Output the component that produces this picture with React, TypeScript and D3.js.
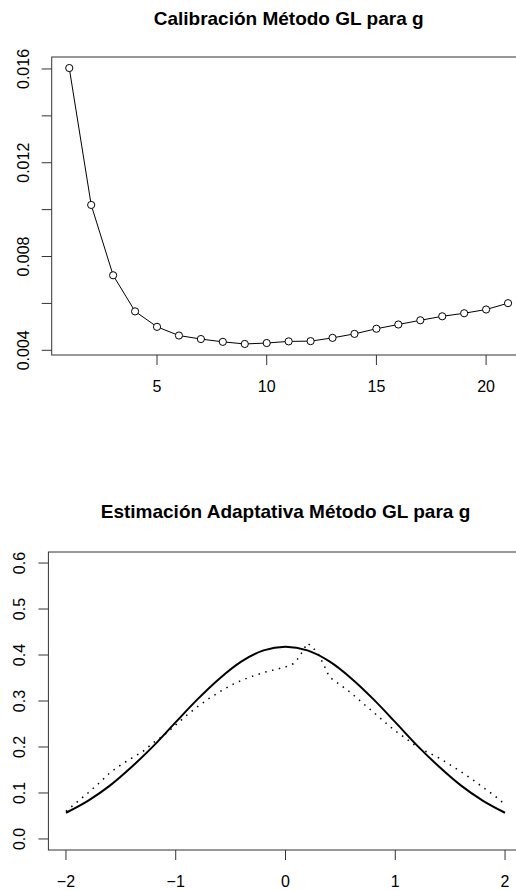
import React, { useEffect, useRef } from 'react';
import * as d3 from 'd3';

// top panel: calibration error by number of components
const calibK = [1, 2, 3, 4, 5, 6, 7, 8, 9, 10, 11, 12, 13, 14, 15, 16, 17, 18, 19, 20, 21];
const calibErr = [
  0.01604, 0.0102, 0.0072, 0.00566, 0.005, 0.00463, 0.00448, 0.00436, 0.00427, 0.00431, 0.00438,
  0.00439, 0.00453, 0.0047, 0.00492, 0.0051, 0.00528, 0.00545, 0.00558, 0.00574, 0.00601,
];
const calibXTicks = [5, 10, 15, 20];
const calibYTicks = [0.004, 0.006, 0.008, 0.01, 0.012, 0.014, 0.016];
const calibYLabels = ['0.004', '', '0.008', '', '0.012', '', '0.016'];

// bottom panel: true density (solid) and adaptive estimate (dotted)
const trueX = [-2, -1.8, -1.6, -1.4, -1.2, -1, -0.8, -0.6, -0.4, -0.2, 0, 0.2, 0.4, 0.6, 0.8, 1, 1.2, 1.4, 1.6, 1.8, 2];
const trueY = [
  0.057, 0.083, 0.116, 0.157, 0.203, 0.254, 0.304, 0.349, 0.386, 0.41, 0.418, 0.41, 0.386, 0.349, 0.304,
  0.254, 0.203, 0.157, 0.116, 0.083, 0.057,
];
const estX = [
  -2, -1.9, -1.8, -1.7, -1.6, -1.5, -1.4, -1.3, -1.2, -1.1, -1, -0.9, -0.8, -0.7, -0.6, -0.5, -0.4, -0.3,
  -0.2, -0.1, 0, 0.07, 0.12, 0.2, 0.25, 0.3, 0.35, 0.4, 0.5, 0.6, 0.7, 0.8, 0.9, 1, 1.1, 1.2, 1.3, 1.4,
  1.5, 1.6, 1.7, 1.8, 1.9, 2,
];
const estY = [
  0.06, 0.08, 0.1, 0.121, 0.144, 0.161, 0.176, 0.19, 0.21, 0.227, 0.248, 0.269, 0.288, 0.305, 0.32, 0.334,
  0.345, 0.354, 0.362, 0.368, 0.374, 0.381, 0.394, 0.426, 0.416, 0.402, 0.378, 0.352, 0.335, 0.317, 0.296,
  0.276, 0.255, 0.235, 0.218, 0.2, 0.188, 0.176, 0.161, 0.146, 0.13, 0.112, 0.095, 0.075,
];
const densXTicks = [-2, -1, 0, 1, 2];
const densYTicks = [0, 0.1, 0.2, 0.3, 0.4, 0.5, 0.6];

const width = 516, height = 890;
const font = '"Liberation Sans", Arial, Helvetica, sans-serif';

// R style 4% padding around the range
const pad = (lo, hi) => {
  const d = (hi - lo) * 0.04;
  return [lo - d, hi + d];
};

const drawPanel = (g, opts) => {
  const { x, y, title, titleY, xTicks, yTicks, yLabels, xFmt } = opts;
  const [left, right] = x.range();
  const [bottom, top] = y.range();

  g.append('text')
    .attr('x', (left + right) / 2)
    .attr('y', titleY)
    .attr('text-anchor', 'middle')
    .attr('font-family', font)
    .attr('font-weight', 'bold')
    .attr('font-size', 19)
    .text(title);

  g.append('rect')
    .attr('x', left)
    .attr('y', top)
    .attr('width', right - left)
    .attr('height', bottom - top)
    .attr('fill', 'none')
    .attr('stroke', '#333');

  // x axis
  g.selectAll('line.xt')
    .data(xTicks)
    .enter()
    .append('line')
    .attr('x1', d => x(d))
    .attr('x2', d => x(d))
    .attr('y1', bottom)
    .attr('y2', bottom + 10)
    .attr('stroke', '#333');
  g.selectAll('text.xl')
    .data(xTicks)
    .enter()
    .append('text')
    .attr('x', d => x(d))
    .attr('y', bottom + 37)
    .attr('text-anchor', 'middle')
    .attr('font-family', font)
    .attr('font-size', 16)
    .text(xFmt);

  // y axis
  g.selectAll('line.yt')
    .data(yTicks)
    .enter()
    .append('line')
    .attr('x1', left)
    .attr('x2', left - 10)
    .attr('y1', d => y(d))
    .attr('y2', d => y(d))
    .attr('stroke', '#333');
  g.selectAll('text.yl')
    .data(yTicks)
    .enter()
    .append('text')
    .attr('transform', d => `translate(${left - 23},${y(d)}) rotate(-90)`)
    .attr('text-anchor', 'middle')
    .attr('font-family', font)
    .attr('font-size', 16)
    .text((d, i) => yLabels[i]);
};

const App = () => {
  const svgRef = useRef();

  useEffect(() => {
    const svg = d3.select(svgRef.current);
    svg.selectAll('*').remove();

    // ---- top panel
    const x1 = d3.scaleLinear().domain(pad(1, 21)).range([51.7, 525.6]);
    const y1 = d3.scaleLinear().domain(pad(d3.min(calibErr), d3.max(calibErr))).range([355, 57]);
    const top = svg.append('g');
    drawPanel(top, {
      x: x1,
      y: y1,
      title: 'Calibración Método GL para g',
      titleY: 25,
      xTicks: calibXTicks,
      yTicks: calibYTicks,
      yLabels: calibYLabels,
      xFmt: d => String(d),
    });

    const pts = calibK.map((k, i) => [k, calibErr[i]]);
    top.append('path')
      .attr('d', d3.line().x(d => x1(d[0])).y(d => y1(d[1]))(pts))
      .attr('fill', 'none')
      .attr('stroke', '#000')
      .attr('stroke-width', 1);
    top.selectAll('circle')
      .data(pts)
      .enter()
      .append('circle')
      .attr('cx', d => x1(d[0]))
      .attr('cy', d => y1(d[1]))
      .attr('r', 3.6)
      .attr('fill', '#fff')
      .attr('stroke', '#000');

    // ---- bottom panel
    const x2 = d3.scaleLinear().domain(pad(-2, 2)).range([48.4, 522.6]);
    const y2 = d3.scaleLinear().domain(pad(0, 0.6)).range([850, 552]);
    const bot = svg.append('g');
    drawPanel(bot, {
      x: x2,
      y: y2,
      title: 'Estimación Adaptativa Método GL para g',
      titleY: 518,
      xTicks: densXTicks,
      yTicks: densYTicks,
      yLabels: densYTicks.map(d => d.toFixed(1)),
      xFmt: d => (d < 0 ? '\u2212' + Math.abs(d) : String(d)),
    });

    bot.append('path')
      .attr('d', d3.line().x(d => x2(d[0])).y(d => y2(d[1])).curve(d3.curveMonotoneX)(trueX.map((v, i) => [v, trueY[i]])))
      .attr('fill', 'none')
      .attr('stroke', '#000')
      .attr('stroke-width', 2);
    bot.append('path')
      .attr('d', d3.line().x(d => x2(d[0])).y(d => y2(d[1]))(estX.map((v, i) => [v, estY[i]])))
      .attr('fill', 'none')
      .attr('stroke', '#000')
      .attr('stroke-width', 1.5)
      .attr('stroke-dasharray', '1.5 5.5');
  }, []);

  return (
    <svg
      ref={svgRef}
      width={width}
      height={height}
      style={{ position: 'absolute', left: 0, top: 0, background: '#fff' }}
    ></svg>
  );
};

export default App;
